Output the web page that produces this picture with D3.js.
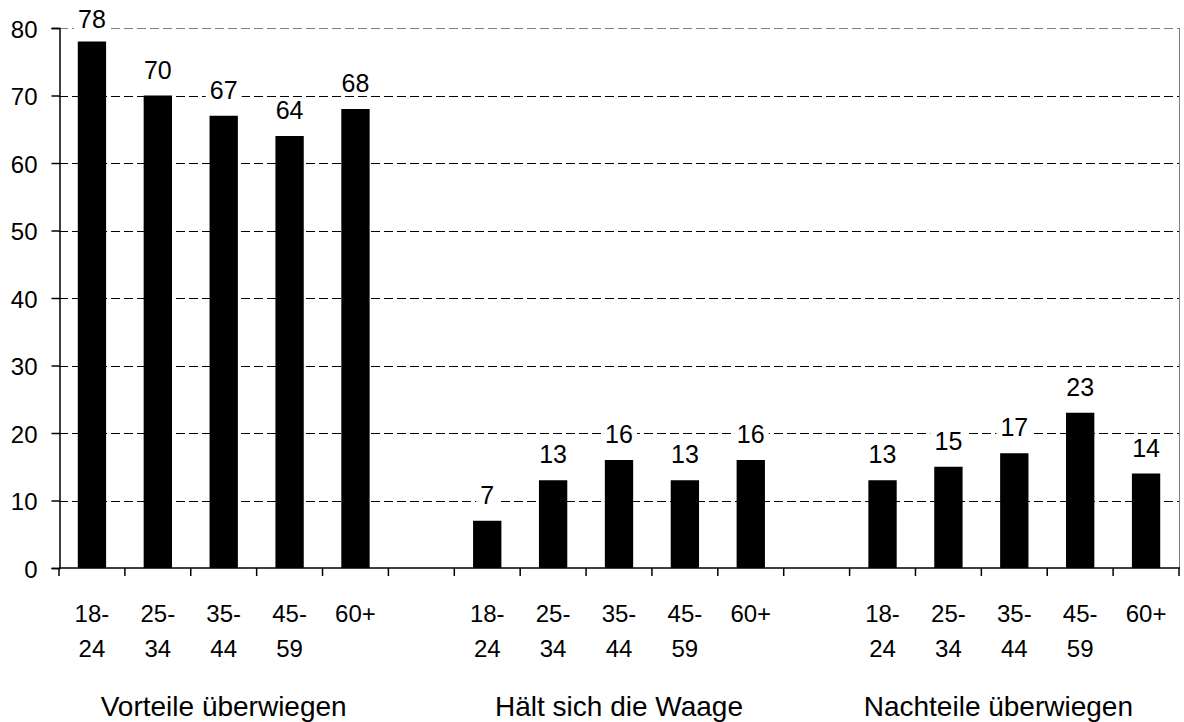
<!DOCTYPE html>
<html>
<head>
<meta charset="utf-8">
<script src="https://cdnjs.cloudflare.com/ajax/libs/d3/7.8.5/d3.min.js"></script>
<style>
  body { margin: 0; background: #fff; }
  text { font-family: "Liberation Sans", Arial, sans-serif; fill: #000; }
</style>
</head>
<body>
<div id="chartDiv"></div>
<script>
const groups = ['Vorteile überwiegen', 'Hält sich die Waage', 'Nachteile überwiegen'];
const ages = [['18-', '24'], ['25-', '34'], ['35-', '44'], ['45-', '59'], ['60+', '']];
const vorteile = [78, 70, 67, 64, 68];
const waage = [7, 13, 16, 13, 16];
const nachteile = [13, 15, 17, 23, 14];
const yTicks = [0, 10, 20, 30, 40, 50, 60, 70, 80];

const seriesValues = [vorteile, waage, nachteile];

const width = 1184, height = 722;
const margin = { left: 59, right: 5, top: 28, bottom: 154 };

// slots: 5 bars per group, one empty slot between groups
const slots = [];
groups.forEach((g, gi) => {
  if (gi > 0) slots.push({ key: 'gap' + gi, gap: true });
  ages.forEach((a, ai) => {
    slots.push({ key: gi + '-' + ai, group: gi, age: a, value: seriesValues[gi][ai] });
  });
});

const svg = d3.select('#chartDiv').append('svg')
  .attr('width', width).attr('height', height);

const x = d3.scaleBand()
  .domain(slots.map(d => d.key))
  .range([margin.left, 1179])
  .padding(0);

const y = d3.scaleLinear()
  .domain([0, 80])
  .range([height - margin.bottom, margin.top]);

// gridlines
svg.append('g')
  .selectAll('line')
  .data(yTicks.filter(t => t > 0))
  .join('line')
  .attr('x1', margin.left)
  .attr('x2', 1179)
  .attr('y1', d => Math.round(y(d)) + 0.5)
  .attr('y2', d => Math.round(y(d)) + 0.5)
  .attr('stroke', d => d === 80 ? '#808080' : '#000')
  .attr('stroke-width', 1)
  .attr('stroke-dasharray', '9,4');

// right border
svg.append('line')
  .attr('x1', 1179.5).attr('x2', 1179.5)
  .attr('y1', y(80)).attr('y2', y(0))
  .attr('stroke', '#808080');

const bars = slots.filter(d => !d.gap);
const barW = x.bandwidth() * 0.43;

svg.append('g')
  .selectAll('rect')
  .data(bars)
  .join('rect')
  .attr('x', d => x(d.key) + (x.bandwidth() - barW) / 2)
  .attr('y', d => y(d.value))
  .attr('width', barW)
  .attr('height', d => y(0) - y(d.value))
  .attr('fill', '#000');

// value labels with white backing
const lab = svg.append('g')
  .selectAll('g')
  .data(bars)
  .join('g')
  .attr('transform', d => `translate(${x(d.key) + x.bandwidth() / 2},${Math.max(y(d.value) - 17, 28)})`);

lab.append('rect')
  .attr('x', d => -String(d.value).length * 7 - 4)
  .attr('y', -19)
  .attr('width', d => String(d.value).length * 14 + 8)
  .attr('height', 21)
  .attr('fill', '#fff');

lab.append('text')
  .attr('text-anchor', 'middle')
  .style('font-size', '25px')
  .text(d => d.value);

// y axis
const yAxis = d3.axisLeft(y)
  .tickValues(yTicks)
  .tickSize(8)
  .tickPadding(14)
  .tickFormat(d3.format('d'));

const yAxisG = svg.append('g')
  .attr('transform', `translate(${margin.left + 0.5},0)`)
  .call(yAxis);
yAxisG.select('.domain').attr('stroke', '#000').attr('stroke-width', 1.5);
yAxisG.selectAll('.tick line').attr('stroke', '#000').attr('stroke-width', 1.5);
yAxisG.selectAll('.tick text')
  .style('font-size', '24px')
  .attr('dy', '0.38em')
  .attr('font-family', null);

// x axis line and ticks at slot boundaries
const xAxisG = svg.append('g');
xAxisG.append('line')
  .attr('x1', margin.left).attr('x2', 1180)
  .attr('y1', y(0)).attr('y2', y(0))
  .attr('stroke', '#000').attr('stroke-width', 1.5);

const boundaries = slots.map(d => x(d.key)).concat([x.range()[1]]);
xAxisG.selectAll('.xtick')
  .data(boundaries)
  .join('line')
  .attr('class', 'xtick')
  .attr('x1', d => d).attr('x2', d => d)
  .attr('y1', y(0)).attr('y2', y(0) + 8)
  .attr('stroke', '#000').attr('stroke-width', 1.5);

// age labels
const ageLab = svg.append('g')
  .selectAll('text')
  .data(bars)
  .join('text')
  .attr('text-anchor', 'middle')
  .attr('x', d => x(d.key) + x.bandwidth() / 2)
  .attr('y', 622)
  .style('font-size', '24px');
ageLab.append('tspan').text(d => d.age[0]);
ageLab.append('tspan')
  .attr('x', d => x(d.key) + x.bandwidth() / 2)
  .attr('dy', 35)
  .text(d => d.age[1]);

// group labels, kept inside the right edge like the original
const groupLab = svg.append('g')
  .selectAll('text')
  .data(groups)
  .join('text')
  .attr('text-anchor', 'middle')
  .attr('y', 716)
  .style('font-size', '28px')
  .text(d => d);

groupLab.attr('x', function (g, gi) {
  const first = x(gi + '-0');
  const last = x(gi + '-4') + x.bandwidth();
  const w = this.getComputedTextLength();
  return Math.min((first + last) / 2, width - 51 - w / 2);
});
</script>
</body>
</html>
